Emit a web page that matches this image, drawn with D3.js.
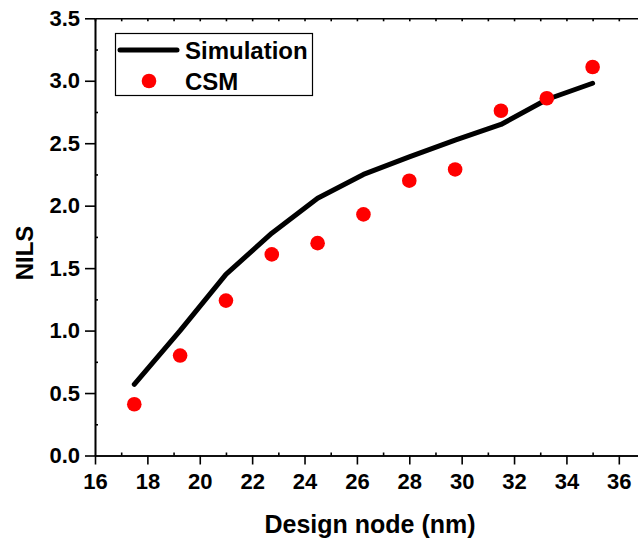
<!DOCTYPE html>
<html>
<head>
<meta charset="utf-8">
<script src="https://cdn.jsdelivr.net/npm/d3@7"></script>
<style>
  body { margin: 0; background: #fff; }
  svg text { font-family: "Liberation Sans", Arial, sans-serif; font-weight: bold; fill: #000; }
</style>
</head>
<body>
<svg id="chart" width="638" height="539"></svg>
<script>
// design node (nm) for each sample
const nodes = [17.5, 19.25, 21, 22.75, 24.5, 26.25, 28, 29.75, 31.5, 33.25, 35]
const simulation = [0.57, 1.00, 1.45, 1.78, 2.06, 2.25, 2.39, 2.525, 2.65, 2.85, 2.98]
const csm = [0.41, 0.80, 1.24, 1.61, 1.70, 1.93, 2.20, 2.29, 2.76, 2.86, 3.11]

const xTicks = [16, 18, 20, 22, 24, 26, 28, 30, 32, 34, 36]
const xMinor = [17, 19, 21, 23, 25, 27, 29, 31, 33, 35, 37]
const yTicks = [0, 0.5, 1.0, 1.5, 2.0, 2.5, 3.0, 3.5]
const yMinor = [0.25, 0.75, 1.25, 1.75, 2.25, 2.75, 3.25]
const legendLabels = ["Simulation", "CSM"]

const svg = d3.select("#chart")

let x = d3.scaleLinear().domain([16, 37]).range([95, 645]),
    y = d3.scaleLinear().domain([0, 3.5]).range([455.5, 18.3])

const styleAxis = g => {
    g.selectAll("path").attr("stroke", "#000").attr("stroke-width", 1.6)
    g.selectAll("line").attr("stroke", "#000").attr("stroke-width", 1.6)
}

// bottom axis
svg.append("g")
    .attr("transform", "translate(0," + y(0) + ")")
    .call(d3.axisBottom(x).tickValues(xTicks).tickSize(9).tickSizeOuter(0).tickPadding(9))
    .call(styleAxis)
    .selectAll("text").style("font-size", "22px")

svg.append("g")
    .attr("transform", "translate(0," + y(0) + ")")
    .call(d3.axisTop(x).tickValues(xMinor).tickSize(3).tickSizeOuter(0).tickFormat(""))
    .call(styleAxis)

// top frame
svg.append("g")
    .attr("transform", "translate(0," + y(3.5) + ")")
    .call(d3.axisBottom(x).tickValues(xTicks.concat(xMinor)).tickSize(3).tickSizeOuter(0).tickFormat(""))
    .call(styleAxis)

// left axis
svg.append("g")
    .attr("transform", "translate(" + x(16) + ",0)")
    .call(d3.axisLeft(y).tickValues(yTicks).tickSize(10).tickSizeOuter(0).tickPadding(5).tickFormat(d3.format(".1f")))
    .call(styleAxis)
    .selectAll("text").style("font-size", "22px")

svg.append("g")
    .attr("transform", "translate(" + x(16) + ",0)")
    .call(d3.axisRight(y).tickValues(yMinor).tickSize(3).tickSizeOuter(0).tickFormat(""))
    .call(styleAxis)

// axis titles
svg.append("text")
    .attr("x", (x.range()[0] + x.range()[1]) / 2)
    .attr("y", 533)
    .attr("text-anchor", "middle")
    .style("font-size", "25px")
    .text("Design node (nm)")

svg.append("text")
    .attr("transform", "translate(33,253) rotate(-90)")
    .attr("text-anchor", "middle")
    .style("font-size", "24px")
    .text("NILS")

// simulation line
let line = d3.line()
    .x(d => x(d[0]))
    .y(d => y(d[1]))

svg.append("path")
    .datum(nodes.map((n, i) => [n, simulation[i]]))
    .attr("d", line)
    .style("fill", "none")
    .style("stroke", "#000")
    .style("stroke-width", 5)
    .style("stroke-linecap", "round")
    .style("stroke-linejoin", "round")

// csm points
svg.selectAll(".csm")
    .data(nodes.map((n, i) => [n, csm[i]]))
    .enter().append("circle")
    .attr("class", "csm")
    .attr("cx", d => x(d[0]))
    .attr("cy", d => y(d[1]))
    .attr("r", 7.3)
    .style("fill", "#ff0000")

// legend
let legend = svg.append("g")

legend.append("rect")
    .attr("x", 115.5).attr("y", 33.5)
    .attr("width", 197).attr("height", 62)
    .style("fill", "#fff")
    .style("stroke", "#000")
    .style("stroke-width", 1.2)

legend.append("line")
    .attr("x1", 120).attr("x2", 177)
    .attr("y1", 50).attr("y2", 50)
    .style("stroke", "#000")
    .style("stroke-width", 5)
    .style("stroke-linecap", "round")

legend.append("circle")
    .attr("cx", 149).attr("cy", 81).attr("r", 7.3)
    .style("fill", "#ff0000")

legend.selectAll(".legend-label")
    .data(legendLabels)
    .enter().append("text")
    .attr("class", "legend-label")
    .attr("x", 185)
    .attr("y", (d, i) => 59 + i * 31)
    .style("font-size", "24px")
    .text(d => d)
</script>
</body>
</html>
